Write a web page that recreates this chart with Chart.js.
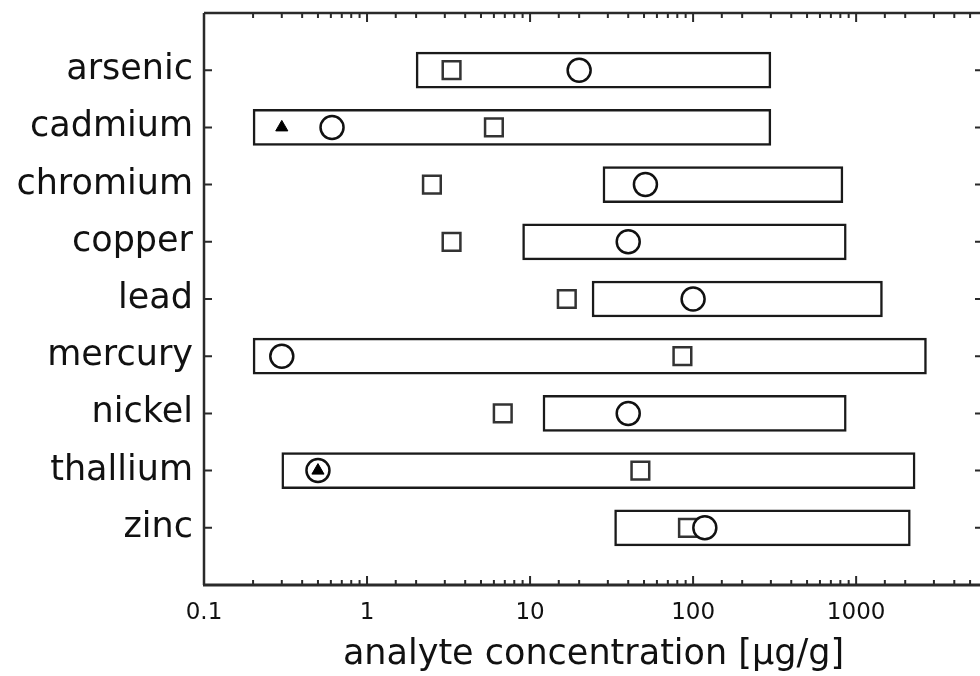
<!DOCTYPE html>
<html>
<head>
<meta charset="utf-8">
<script src="https://cdn.jsdelivr.net/npm/chart.js@4"></script>
<style>
    html, body { margin: 0; padding: 0; background: #fff; overflow: hidden; }
    #wrap { position: absolute; left: 0; top: 0; width: 990px; height: 676px; }
</style>
</head>
<body>
<div id="wrap"><canvas id="myRangeChart"></canvas></div>
<script>
// Analytes, one row each
const analytes = ['arsenic', 'cadmium', 'chromium', 'copper', 'lead', 'mercury', 'nickel', 'thallium', 'zinc'];

// Range of each box [µg/g]
const rangeLow = [2, 0.2, 28, 9, 24, 0.2, 12, 0.3, 33];
const rangeHigh = [300, 300, 830, 870, 1450, 2700, 870, 2300, 2150];

// Open squares, open circles and filled triangles
const squareValues = [3.3, 6, 2.5, 3.3, 16.8, 86, 6.8, 47.5, 93];
const circleValues = [20, 0.61, 51, 40, 100, 0.3, 40, 0.5, 118];
const triangleValues = [null, 0.3, null, null, null, null, null, 0.5, null];

const xTickLabels = [0.1, 1, 10, 100, 1000];

const toPoints = values => values
    .map((v, i) => ({ x: v, y: i + 1 }))
    .filter(p => p.x !== null);

// frame + inward ticks, like the original plot
const framePlugin = {
    id: 'frame',
    afterDraw(chart) {
        const { ctx, chartArea } = chart;
        const { left, right, top, bottom } = chartArea;
        const xScale = chart.scales.x;
        const yScale = chart.scales.y;
        ctx.save();
        ctx.strokeStyle = '#2a2a2a';
        ctx.lineCap = 'butt';

        ctx.lineWidth = 2.5;
        ctx.beginPath();
        ctx.moveTo(left, top);
        ctx.lineTo(left, bottom);
        ctx.moveTo(right, top);
        ctx.lineTo(right, bottom);
        ctx.moveTo(left, top);
        ctx.lineTo(right, top);
        ctx.stroke();

        ctx.lineWidth = 3;
        ctx.beginPath();
        ctx.moveTo(left - 1, bottom);
        ctx.lineTo(right, bottom);
        ctx.stroke();

        ctx.lineWidth = 2;
        ctx.beginPath();
        yScale.ticks.forEach(t => {
            const y = yScale.getPixelForValue(t.value);
            ctx.moveTo(left, y);
            ctx.lineTo(left + 8, y);
            ctx.moveTo(right, y);
            ctx.lineTo(right - 8, y);
        });
        xScale.ticks.forEach(t => {
            const x = xScale.getPixelForValue(t.value);
            const isMajor = Math.abs(Math.log10(t.value) - Math.round(Math.log10(t.value))) < 1e-6;
            const len = isMajor ? 9 : 5;
            ctx.moveTo(x, bottom);
            ctx.lineTo(x, bottom - len);
            ctx.moveTo(x, top);
            ctx.lineTo(x, top + len);
        });
        ctx.stroke();
        ctx.restore();
    }
};

const rangeChartData = {
    datasets: [
        {
            type: 'scatter',
            label: 'triangles',
            data: toPoints(triangleValues),
            pointStyle: 'triangle',
            pointRadius: 7,
            backgroundColor: '#000',
            borderColor: '#000',
            borderWidth: 1,
            order: 1
        },
        {
            type: 'scatter',
            label: 'circles',
            data: toPoints(circleValues),
            pointStyle: 'circle',
            pointRadius: 11.5,
            backgroundColor: '#fff',
            borderColor: '#111',
            borderWidth: 2.5,
            order: 2
        },
        {
            type: 'scatter',
            label: 'squares',
            data: toPoints(squareValues),
            pointStyle: 'rect',
            pointRadius: 12.5,
            backgroundColor: '#fff',
            borderColor: '#333',
            borderWidth: 2.5,
            order: 3
        },
        {
            type: 'bar',
            label: 'range',
            indexAxis: 'y',
            data: analytes.map((name, i) => ({ x: [rangeLow[i], rangeHigh[i]], y: i + 1 })),
            backgroundColor: '#fff',
            borderColor: '#1a1a1a',
            borderWidth: 2.5,
            borderSkipped: false,
            barThickness: 36,
            order: 4
        }
    ]
};

const rangeChartConfig = {
    type: 'bar',
    data: rangeChartData,
    plugins: [framePlugin],
    options: {
        responsive: true,
        maintainAspectRatio: false,
        animation: false,
        layout: {
            autoPadding: false,
            padding: { top: 13, right: 7, left: 0, bottom: 0 }
        },
        scales: {
            x: {
                type: 'logarithmic',
                min: 0.1,
                max: 6000,
                offset: false,
                grid: { display: false, drawTicks: false },
                border: { display: false },
                afterFit: scale => {
                    scale.height = 91;
                    scale.paddingLeft = 0;
                    scale.paddingRight = 0;
                },
                ticks: {
                    autoSkip: false,
                    maxRotation: 0,
                    padding: 14,
                    color: '#111',
                    font: { family: 'DejaVu Sans', size: 23 },
                    callback: value => xTickLabels.includes(value) ? String(value) : ''
                },
                title: {
                    display: true,
                    text: 'analyte concentration [µg/g]',
                    color: '#111',
                    font: { family: 'DejaVu Sans', size: 35 },
                    padding: { top: 0, bottom: 0 }
                }
            },
            y: {
                type: 'linear',
                reverse: true,
                min: 0,
                max: 10,
                offset: false,
                grid: { display: false, drawTicks: false },
                border: { display: false },
                afterBuildTicks: scale => {
                    scale.ticks = analytes.map((name, i) => ({ value: i + 1 }));
                },
                afterFit: scale => {
                    scale.width = 204;
                    scale.paddingTop = 0;
                    scale.paddingBottom = 0;
                },
                ticks: {
                    padding: 11,
                    color: '#111',
                    font: { family: 'DejaVu Sans', size: 35 },
                    callback: value => analytes[value - 1] || ''
                }
            }
        },
        plugins: {
            legend: { display: false },
            tooltip: { enabled: false }
        }
    }
};

new Chart(
    document.getElementById('myRangeChart'),
    rangeChartConfig
);
</script>
</body>
</html>
